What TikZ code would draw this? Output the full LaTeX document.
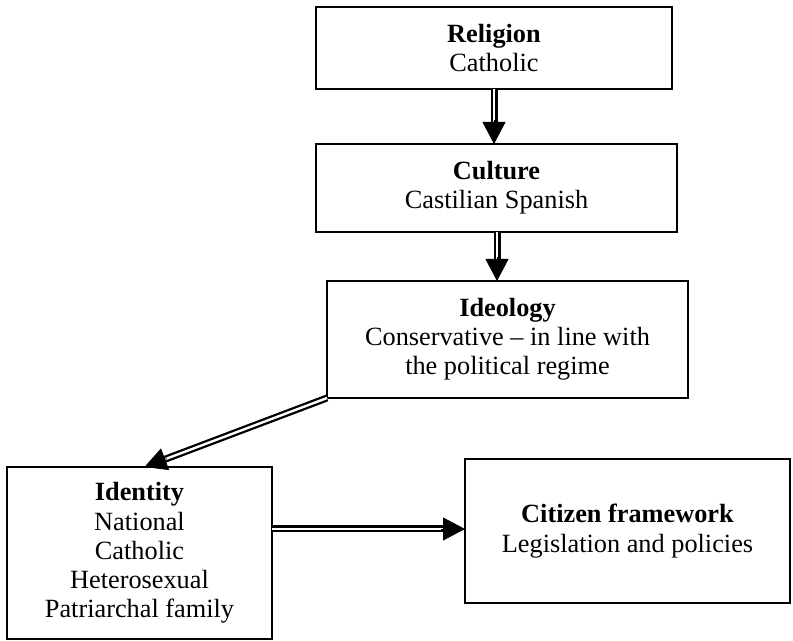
\documentclass[tikz,border=0pt]{standalone}
\usepackage{fontspec}
\setmainfont{Liberation Serif}
\usetikzlibrary{arrows.meta,calc}
\begin{document}
\begin{tikzpicture}[
    x=0.5pt, y=-0.5pt,
    box/.style={draw, line width=1pt, inner sep=0pt, outer sep=0pt, align=center,
        font=\fontsize{13.15}{14.6}\selectfont},
    twin/.style={draw, double, line width=1.15pt, double distance=1.2pt, shorten >=10pt},
    head/.style={-{Triangle[length=11pt,width=11.5pt]}, line width=0.4pt}
]
\useasboundingbox (0,0) rectangle (793,641);
\node [box, minimum width=178pt, minimum height=41pt] (rel) at (494,48)
    {\textbf{Religion}\\Catholic};
\node [box, minimum width=180.5pt, minimum height=44pt] (cul) at (496.5,188)
    {\textbf{Culture}\\Castilian Spanish};
\node [box, minimum width=180.5pt, minimum height=58.5pt] (ideo) at (507.5,339.5)
    {\textbf{Ideology}\\Conservative -- in line with\\the political regime};
\node [box, minimum width=132.5pt, minimum height=86pt] (iden) at (139.5,553)
    {\textbf{Identity}\\National\\Catholic\\Heterosexual\\Patriarchal family};
\node [box, minimum width=162.5pt, minimum height=72pt] (cit) at (627.5,531)
    {\textbf{Citizen framework}\\Legislation and policies};

\coordinate (a1) at (rel.south |- cul.north);
\coordinate (b0) at (cul.south -| 497,0);
\coordinate (b1) at (b0 |- ideo.north);
\coordinate (c1) at ($(iden.north)+(5,0)$);
\coordinate (d0) at ($(iden.north east)+(0,62)$);
\coordinate (d1) at (d0 -| cit.west);

\draw [twin] (rel.south) -- (a1);
\draw [head] ($(a1)!12pt!(rel.south)$) -- (a1);
\draw [twin] (b0) -- (b1);
\draw [head] ($(b1)!12pt!(b0)$) -- (b1);
\draw [twin] (ideo.south west) -- (c1);
\draw [head] ($(c1)!12pt!(ideo.south west)$) -- (c1);
\draw [twin] (d0) -- (d1);
\draw [head] ($(d1)!12pt!(d0)$) -- (d1);
\end{tikzpicture}
\end{document}
